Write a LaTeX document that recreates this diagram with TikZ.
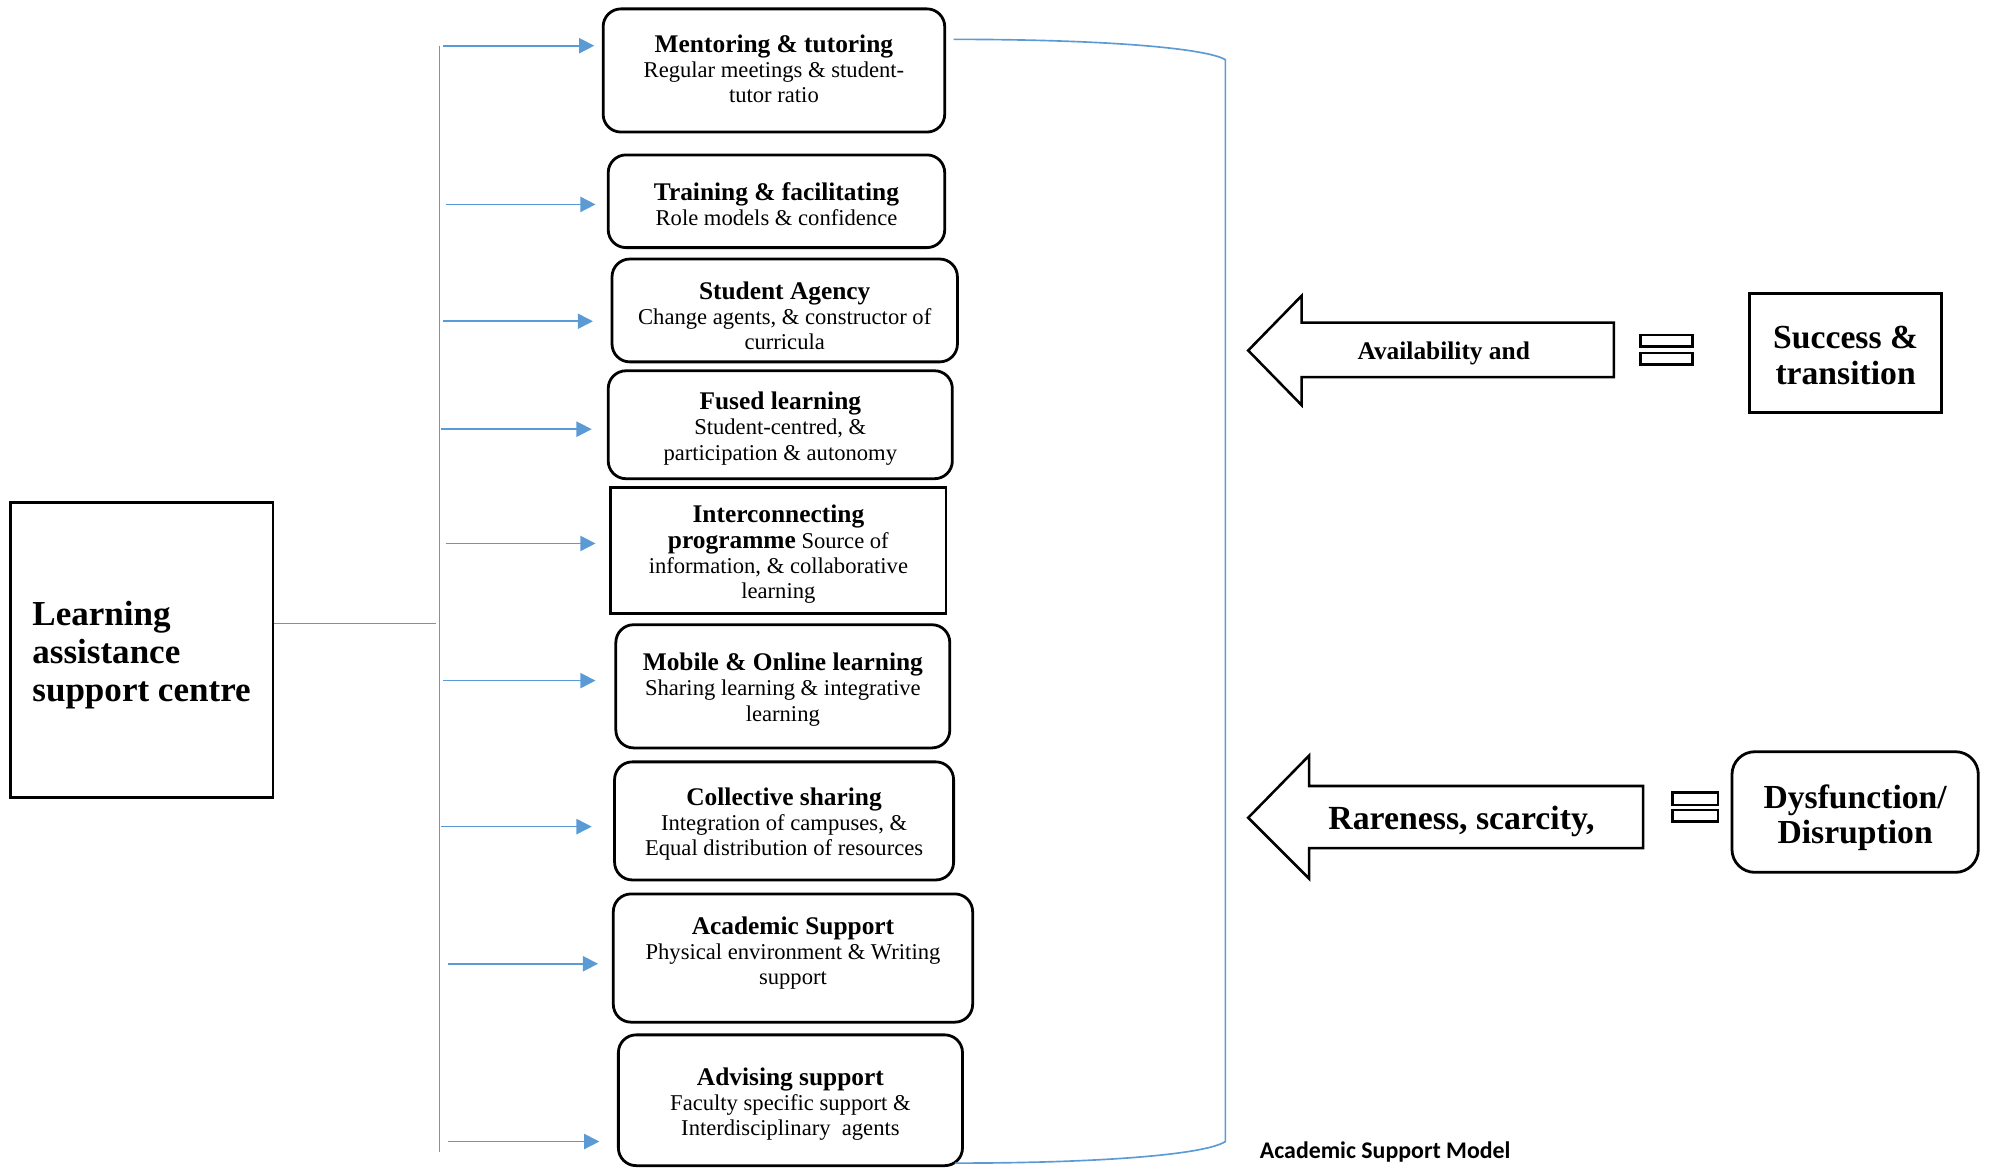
\documentclass[tikz,border=0pt]{standalone}
\usepackage{fontspec}
\setmainfont{Liberation Serif}
\newfontfamily\calib{Carlito}
\usetikzlibrary{arrows.meta}
\definecolor{lblue}{HTML}{5B9BD5}
\tikzset{
  bline/.style={draw=lblue, line width=1.3pt},
  barrow/.style={bline, -{Triangle[length=12pt,width=12pt]}},
  sbox/.style={draw, line width=2.2pt, rounded corners=14pt, inner sep=0pt},
  sqbox/.style={sbox, rounded corners=0pt},
  btxt/.style={inner sep=0pt, align=center, font=\fontsize{17.8}{19.8}\selectfont},
  bigtxt/.style={inner sep=0pt, align=center, font=\fontsize{26.5}{28}\selectfont\bfseries},
  bigarrow/.style={draw, line width=2pt, fill=white},
  eqbar/.style={draw, line width=2pt},
}
\newcommand{\ttlf}[1]{{\fontsize{20}{21}\selectfont\bfseries #1}}
\begin{document}
\begin{tikzpicture}[x=1pt,y=-1pt]
\useasboundingbox (0,0) rectangle (1568,920);

% left box
\node[draw, line width=2.2pt, minimum width=207pt, minimum height=232pt, inner sep=0pt] (lbox) at (111.5,512) {};
\node[inner sep=0pt, align=left, font=\fontsize{27.6}{30}\selectfont\bfseries] (ltxt) at (111.5,516)
  {Learning\\assistance\\support centre};

% boxes
\node[sbox, minimum width=269pt, minimum height=97pt] (b1) at (609.5,55.5) {};
\node[btxt] (t1) at (609.5,54)
  {\ttlf{Mentoring \& tutoring}\\Regular meetings \& student-\\tutor ratio};
\node[sbox, minimum width=265pt, minimum height=73pt] (b2) at (611.5,158.5) {};
\node[btxt] (t2) at (611.5,161)
  {\ttlf{Training \& facilitating}\\Role models \& confidence};
\node[sbox, minimum width=272pt, minimum height=81pt] (b3) at (618,244.5) {};
\node[btxt] (t3) at (618,248.5)
  {\ttlf{Student Agency}\\Change agents, \& constructor of\\curricula};
\node[sbox, minimum width=271pt, minimum height=85pt] (b4) at (614.5,334.5) {};
\node[btxt] (t4) at (614.5,337.5)
  {\ttlf{Fused learning}\\Student-centred, \&\\participation \& autonomy};
\node[sqbox, minimum width=264pt, minimum height=99pt] (b5) at (613,433.5) {};
\node[btxt] (t5) at (613,436.5)
  {\ttlf{Interconnecting}\\\ttlf{programme} Source of\\information, \& collaborative\\learning};
\node[sbox, minimum width=263pt, minimum height=97pt] (b6) at (616.5,540.5) {};
\node[btxt] (t6) at (616.5,543)
  {\ttlf{Mobile \& Online learning}\\Sharing learning \& integrative\\learning};
\node[sbox, minimum width=267pt, minimum height=93pt] (b7) at (617.5,646.5) {};
\node[btxt] (t7) at (617.5,649)
  {\ttlf{Collective sharing}\\Integration of campuses, \&\\Equal distribution of resources};
\node[sbox, minimum width=283pt, minimum height=101pt] (b8) at (624.5,754.5) {};
\node[btxt] (t8) at (624.5,750.5)
  {\ttlf{Academic Support}\\Physical environment \& Writing\\support};
\node[sbox, minimum width=271pt, minimum height=103pt] (b9) at (622.5,866.5) {};
\node[btxt] (t9) at (622.5,869.5)
  {\ttlf{Advising support}\\Faculty specific support \&\\Interdisciplinary\ \ agents};

% trunk lines
\coordinate (j) at (343,491);
\draw[bline] (lbox.east |- j) -- (j);
\coordinate (vtop) at (346,36);
\coordinate (vbot) at (346,907);
\draw[bline] (vtop) -- (vbot);

% arrows to boxes
\foreach \i/\xs/\xe/\yy in {1/349/468/36, 2/351/469/161, 3/349/467/253, 4/347/466/338,
  5/351/469/428, 6/349/469/536, 7/347/466/651, 8/353/471/759, 9/353/472/899}{
  \coordinate (as\i) at (\xs,\yy);
  \coordinate (ae\i) at (\xe,\yy);
  \draw[barrow] (as\i) -- (ae\i);
}

% bracket
\coordinate (br1) at (751,31);
\coordinate (br2) at (752,916);
\draw[bline] (br1) .. controls (870,31) and (950,38) .. (965,47) -- (965,899)
  .. controls (950,909) and (870,916) .. (br2);

% big arrows
\draw[bigarrow] (983,276) -- (1025,233) -- (1025,254) -- (1271,254) -- (1271,297)
  -- (1025,297) -- (1025,319) -- cycle;
\node[inner sep=0pt, font=\fontsize{20}{22}\selectfont\bfseries] (avail) at (1137,278) {Availability and};
\draw[bigarrow] (983,644) -- (1031,595) -- (1031,619) -- (1294,619) -- (1294,668)
  -- (1031,668) -- (1031,692) -- cycle;
\node[inner sep=0pt, font=\fontsize{26.6}{28}\selectfont\bfseries] (rare) at (1151,647) {Rareness, scarcity,};

% equal signs
\draw[eqbar] (1292,264) rectangle (1333,273);
\draw[eqbar] (1292,278) rectangle (1333,287);
\draw[eqbar] (1317,624) rectangle (1353,634);
\draw[eqbar] (1317,638) rectangle (1353,647);

% outcome boxes
\node[sqbox, minimum width=151pt, minimum height=94pt] (succ) at (1453.5,278) {};
\node[bigtxt] (stxt) at (1453.5,280) {Success \&\\transition};
\node[sbox, rounded corners=18pt, minimum width=194pt, minimum height=95pt] (dys) at (1461,639.5) {};
\node[bigtxt] (dtxt) at (1461,644) {Dysfunction/\\Disruption};

% caption
\node[anchor=west, inner sep=0pt, font=\calib\fontsize{18.8}{20}\selectfont\bfseries] (cap) at (992,907) {Academic Support Model};
\end{tikzpicture}
\end{document}
